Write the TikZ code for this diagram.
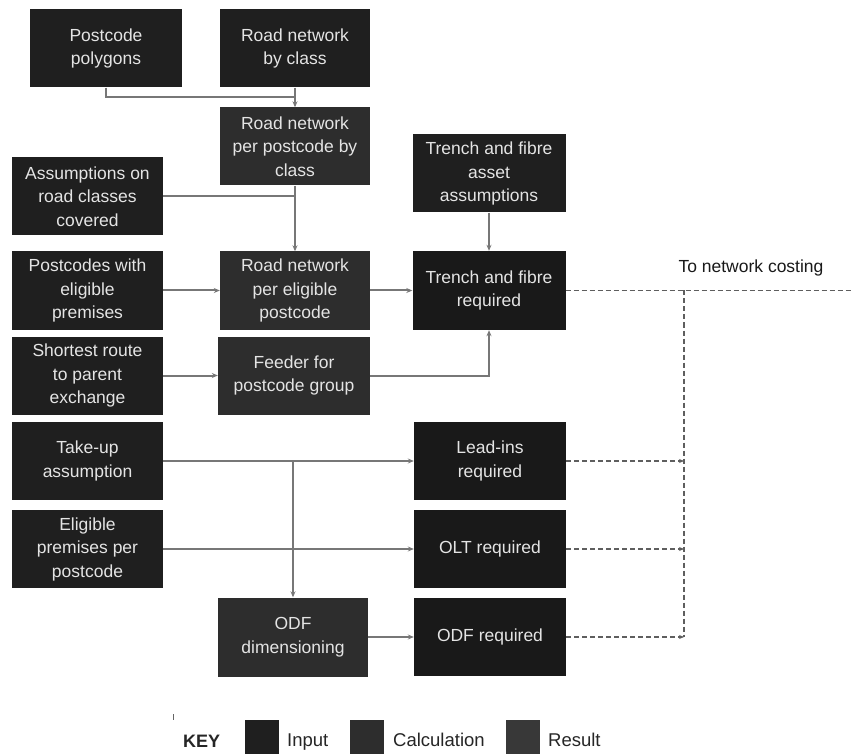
\documentclass[tikz,border=0pt]{standalone}
\usepackage{fontspec}
\setmainfont{Liberation Sans}
\usetikzlibrary{arrows.meta,calc}
\definecolor{cin}{HTML}{1F1F1F}
\definecolor{ccalc}{HTML}{2D2D2D}
\definecolor{cres}{HTML}{191919}
\definecolor{ckres}{HTML}{383838}
\definecolor{cline}{HTML}{777777}
\definecolor{cdash}{HTML}{5E5E5E}
\definecolor{ctxt}{HTML}{E4E4E4}
\tikzset{
  boxbase/.style={minimum width=152pt, minimum height=78pt, inner sep=0pt, align=center,
    text=ctxt, font=\fontsize{17.5}{23.5}\selectfont},
  inbox/.style={boxbase, fill=cin},
  calcbox/.style={boxbase, fill=ccalc},
  resbox/.style={boxbase, fill=cres},
  conn/.style={draw=cline, line width=2pt},
  arr/.style={conn, -{Stealth[length=6pt,width=5pt]}},
  dashline/.style={draw=cdash, line width=1.7pt, dash pattern=on 5pt off 3pt},
  dasharr/.style={dashline, -{Stealth[length=5pt,width=4pt]}},
  keysq/.style={minimum width=34pt, minimum height=34pt, inner sep=0pt},
  keytxt/.style={font=\fontsize{18.5}{22}\selectfont, text=black!85, anchor=base west, inner sep=0pt}
}
\begin{document}
\begin{tikzpicture}[x=1pt,y=-1pt]
\useasboundingbox[fill=white] (0,0) rectangle (852,754);
% nodes
\node[inbox] (pp) at (106,48.5) {Postcode\\polygons};
\node[inbox, minimum width=150pt] (rbc) at (295,48.5) {Road network\\by class};
\node[calcbox, minimum width=150pt] (rpc) at (295,146.5) {Road network\\per postcode by\\class};
\node[inbox, minimum width=153pt] (tfa) at (489,173.5) {Trench and fibre\\asset\\assumptions};
\node[inbox, minimum width=151pt] (arc) at (87.5,196.5) {Assumptions on\\road classes\\covered};
\node[inbox, minimum width=151pt] (pwe) at (87.5,290.5) {Postcodes with\\eligible\\premises};
\node[calcbox, minimum width=150pt] (rpe) at (295,290.5) {Road network\\per eligible\\postcode};
\node[resbox, minimum width=153pt, minimum height=79pt] (tfr) at (489,290.5) {Trench and fibre\\required};
\node[inbox, minimum width=151pt] (sr) at (87.5,375.5) {Shortest route\\to parent\\exchange};
\node[calcbox] (feed) at (294,375.5) {Feeder for\\postcode group};
\node[inbox, minimum width=151pt] (tu) at (87.5,461) {Take-up\\assumption};
\node[resbox] (li) at (490,461) {Lead-ins\\required};
\node[inbox, minimum width=151pt] (ep) at (87.5,549) {Eligible\\premises per\\postcode};
\node[resbox] (olt) at (490,549) {OLT required};
\node[calcbox, minimum width=150pt, minimum height=79pt] (odfd) at (293,637) {ODF\\dimensioning};
\node[resbox] (odfr) at (490,637) {ODF required};
% connectors
\coordinate (j1) at ($(rbc.south)!0.5!(rpc.north)$);
\draw[conn] (pp.south) |- (j1);
\draw[arr] (rbc) -- (rpc);
\draw[arr] (rpc) -- (rpe);
\draw[conn] (arc.east) -- (arc.east -| rpc.south);
\draw[arr] (pwe) -- (rpe);
\draw[arr] (rpe) -- (tfr);
\draw[arr] (tfa) -- (tfr);
\draw[arr] (sr) -- (feed);
\draw[arr] (feed.east) -| (tfr.south);
\draw[arr] (tu.east) -- (li.west);
\draw[arr] (ep.east) -- (olt.west);
\coordinate (b1) at (tu.east -| odfd.north);
\coordinate (b2) at (ep.east -| odfd.north);
\draw[conn] (b1) -- (b2);
\draw[arr] (b2) -- (odfd.north);
\draw[arr] (odfd) -- (odfr);
% dashed outputs
\coordinate (bus) at (684,290.5);
\coordinate (costend) at (852,290.5);
\draw[dashline] (tfr.east) -- (costend);
\draw[dashline] (bus) -- (bus |- odfr.east);
\draw[dasharr] (li.east) -- (li.east -| bus);
\draw[dasharr] (olt.east) -- (olt.east -| bus);
\draw[dasharr] (odfr.east) -- (odfr.east -| bus);
\node[font=\fontsize{17.5}{21}\selectfont, text=black!90, inner sep=0pt] (costlbl) at (751,268) {To network costing};
% key
\draw[draw=black!60, line width=1pt] (173,714) -- (173,720);
\node[keytxt, font=\bfseries\fontsize{18}{22}\selectfont] (keyl) at (183,747) {KEY};
\node[keysq, fill=cin] (kin) at (262,737) {};
\node[keytxt] (kint) at (287,746) {Input};
\node[keysq, fill=ccalc] (kca) at (367,737) {};
\node[keytxt] (kcat) at (393,746) {Calculation};
\node[keysq, fill=ckres] (kre) at (523,737) {};
\node[keytxt] (kret) at (548,746) {Result};
\end{tikzpicture}
\end{document}
